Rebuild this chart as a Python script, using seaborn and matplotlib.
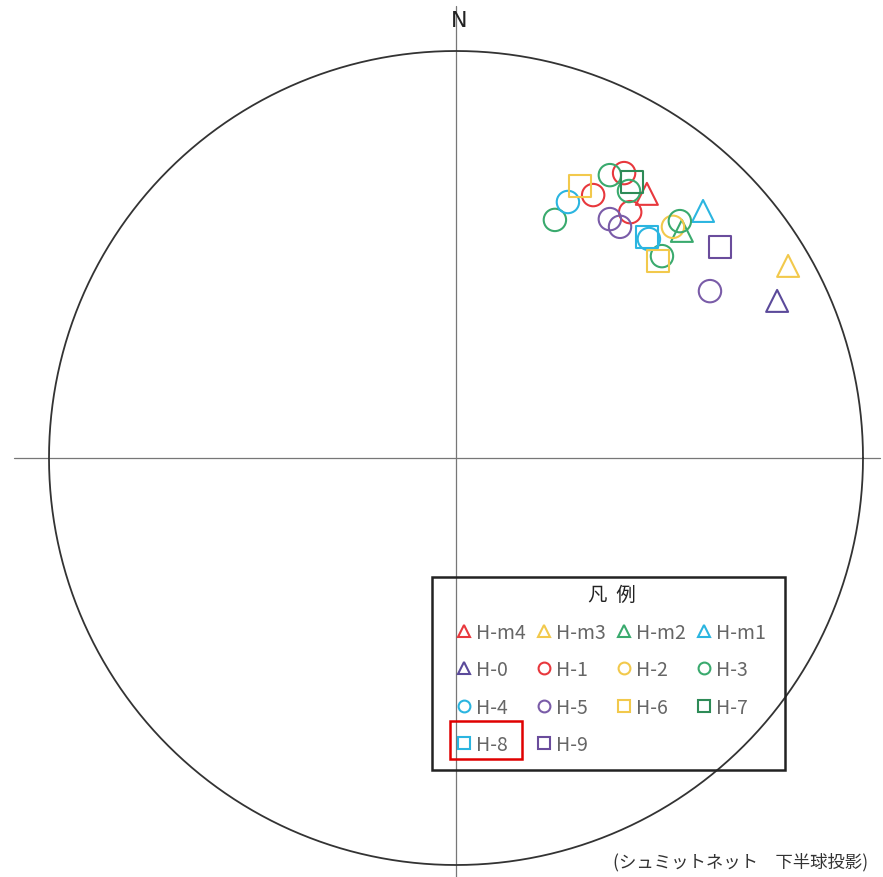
import matplotlib
matplotlib.use("Agg")
import matplotlib.pyplot as plt
from matplotlib.lines import Line2D
from matplotlib.patches import Rectangle
import numpy as np
import pandas as pd
import seaborn as sns

sns.set_theme(style="white")
plt.rcParams['font.family'] = ['Noto Sans CJK JP', 'DejaVu Sans']

# Legend groups (order as in legend, row by row)
groups = ["H-m4", "H-m3", "H-m2", "H-m1", "H-0", "H-1", "H-2", "H-3",
          "H-4", "H-5", "H-6", "H-7", "H-8", "H-9"]
markers = ["^", "^", "^", "^", "^", "o", "o", "o", "o", "o", "s", "s", "s", "s"]
colors = ["#e8383d", "#f2c94c", "#3aaa6e", "#2bb5e0", "#5b4a9a", "#e8383d",
          "#f2c94c", "#3aaa6e", "#2bb5e0", "#7a5ca8", "#f2c94c", "#2e8b57",
          "#2bb5e0", "#6a4c9c"]

# Plotted poles (Schmidt net, lower hemisphere, unit-circle coordinates)
pt_group = ["H-3", "H-4", "H-6", "H-1", "H-3", "H-1", "H-7", "H-3", "H-m4",
            "H-1", "H-5", "H-5", "H-8", "H-4", "H-6", "H-3", "H-2", "H-3",
            "H-m2", "H-m1", "H-9", "H-m3", "H-5", "H-0"]
pt_x = [0.243, 0.275, 0.305, 0.337, 0.378, 0.413, 0.432, 0.425, 0.469,
        0.428, 0.378, 0.403, 0.469, 0.474, 0.496, 0.506, 0.533, 0.550,
        0.555, 0.607, 0.649, 0.816, 0.624, 0.789]
pt_y = [0.585, 0.629, 0.668, 0.646, 0.695, 0.700, 0.678, 0.656, 0.649,
        0.604, 0.587, 0.568, 0.543, 0.538, 0.484, 0.496, 0.568, 0.582,
        0.558, 0.607, 0.518, 0.472, 0.410, 0.386]

df = pd.DataFrame({"group": pt_group, "x": pt_x, "y": pt_y})
style = {g: (m, c) for g, m, c in zip(groups, markers, colors)}

W, H = 883, 878
fig = plt.figure(figsize=(W / 100, H / 100), dpi=100)
ax = fig.add_axes([0, 0, 1, 1])
R = 407.0
cx, cy = 456.0, 459.0
ax.set_xlim(-cx / R, (W - cx) / R)
ax.set_ylim(-(H - cy) / R, cy / R)
ax.set_aspect("equal", adjustable="box")
ax.axis("off")

# Net outline and axes
t = np.linspace(0, 2 * np.pi, 721)
ax.plot(np.cos(t), np.sin(t), color="#333333", lw=1.3, zorder=2)
ax.plot([-1.086, 1.042], [0, 0], color="#777777", lw=0.9, zorder=1)
ax.plot([0, 0], [1.11, -1.1], color="#777777", lw=0.9, zorder=1)
ax.text(0.008, 1.075, "N", ha="center", va="center", fontsize=16,
        color="#222222", family="DejaVu Sans")

for g in groups:
    sub = df[df["group"] == g]
    if sub.empty:
        continue
    m, c = style[g]
    sns.scatterplot(data=sub, x="x", y="y", marker=m, s=250 if m == "^" else 260,
                    facecolors="none", edgecolor=c, color=c, linewidth=1.5,
                    ax=ax, zorder=3, legend=False)

# legend fills column by column -> reorder so it reads row by row
order = [0, 4, 8, 12, 1, 5, 9, 13, 2, 6, 10, 3, 7, 11]
handles = [Line2D([], [], marker=markers[i], color=colors[i], markerfacecolor="none",
                  linestyle="none", markersize=8.5, markeredgewidth=1.5)
           for i in order]
labels = [groups[i] for i in order]

# legend frame
fig.patches.append(Rectangle((432 / W, 1 - 771 / H), 353 / W, 193 / H,
                             transform=fig.transFigure, fill=False,
                             edgecolor="#222222", lw=1.8, zorder=9))

leg = ax.legend(handles, labels, ncol=4, title="凡  例", loc="upper left",
                bbox_to_anchor=(457 / W, 1 - 585 / H), bbox_transform=fig.transFigure,
                frameon=False, fontsize=14, title_fontsize=14, handlelength=0.7,
                handletextpad=0.3, columnspacing=0.55, labelspacing=0.85,
                borderpad=0, borderaxespad=0)
for txt in leg.get_texts():
    txt.set_color("#666666")
leg.get_title().set_color("#222222")

fig.patches.append(Rectangle((450 / W, 1 - 760 / H), 72 / W, 38 / H,
                             transform=fig.transFigure, fill=False,
                             edgecolor="#e00000", lw=1.8, zorder=10))

fig.text(868 / W, 1 - 862 / H, "(シュミットネット　下半球投影)", ha="right", va="center",
         fontsize=12.5, color="#333333")

fig.savefig("out.png", dpi=100)
